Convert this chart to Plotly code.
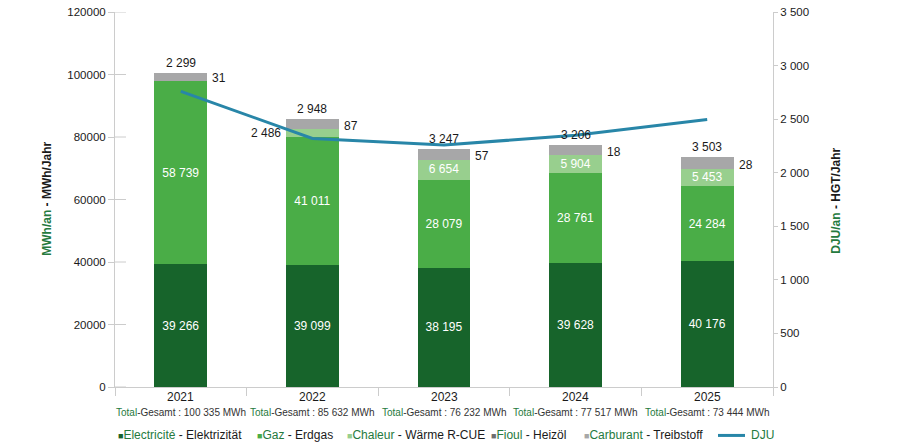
import plotly.graph_objects as go

# ---------------- data ----------------
years = ["2021", "2022", "2023", "2024", "2025"]
electricite = [39266, 39099, 38195, 39628, 40176]
gaz = [58739, 41011, 28079, 28761, 24284]
chaleur = [0, 2486, 6654, 5904, 5453]
fioul = [31, 87, 57, 18, 28]
carburant = [2299, 2948, 3247, 3206, 3503]
dju = [2760, 2320, 2258, 2350, 2497]
totals = ["100 335", "85 632", "76 232", "77 517", "73 444"]

names_fr = ["Electricité", "Gaz", "Chaleur", "Fioul", "Carburant"]
names_de = ["Elektrizität", "Erdgas", "Wärme R-CUE", "Heizöl", "Treibstoff"]
dju_name = "DJU"
left_title = ("MWh/an", " - MWh/Jahr")
right_title = ("DJU/an", " - HGT/Jahr")

# ---------------- style ----------------
W, H = 900, 443
L, R, T, B = 115, 773, 12, 387.5
FONT = "Liberation Sans, Arial, sans-serif"
C_ELEC = "#17642b"
C_GAZ = "#4aad47"
C_CHAL = "#98cf8e"
C_FIOUL = "#6e6e6e"
C_CARB = "#a7a7a8"
C_DJU = "#2886a8"
C_GREEN_TXT = "#257a3e"
C_AXIS = "#cccccc"
Y1MAX = 120000
Y2MAX = 3500
PX_PER_UNIT = (B - T) / Y1MAX
CAT_W = (R - L) / len(years)
BAR_W = 0.4


def fmt(v):
    return f"{v:,}".replace(",", " ")


def px_x(x):
    return (x - L) / (R - L)


def px_y(y):
    return (B - y) / (B - T)


fig = go.Figure()

series = [electricite, gaz, chaleur, fioul, carburant]
colors = [C_ELEC, C_GAZ, C_CHAL, C_FIOUL, C_CARB]
# the sub-pixel fioul segments blend into the carburant block in the reference
bar_colors = [C_ELEC, C_GAZ, C_CHAL, C_CARB, C_CARB]

for i, (vals, col) in enumerate(zip(series, bar_colors)):
    if i in (0, 1):
        text = [fmt(v) for v in vals]
    elif i == 2:
        text = [fmt(v) if v * PX_PER_UNIT >= 14 else "" for v in vals]
    else:
        text = ["" for _ in vals]
    fig.add_trace(go.Bar(
        x=years, y=vals, name=names_fr[i], marker=dict(color=col, line=dict(width=0)),
        width=BAR_W, text=text, textposition="inside", insidetextanchor="middle",
        textangle=0, constraintext="none",
        textfont=dict(color="white", size=12, family=FONT),
        showlegend=False, hoverinfo="skip",
    ))

fig.add_trace(go.Scatter(
    x=years, y=dju, yaxis="y2", mode="lines", name=dju_name,
    line=dict(color=C_DJU, width=3), showlegend=False,
))

annotations = []
half_bar_px = BAR_W * CAT_W / 2
for k, yr in enumerate(years):
    base_chal = electricite[k] + gaz[k]
    top_fioul = base_chal + chaleur[k] + fioul[k]
    total = top_fioul + carburant[k]
    # chaleur outside label (small segments, not zero)
    if 0 < chaleur[k] * PX_PER_UNIT < 14:
        annotations.append(dict(
            x=k, y=base_chal + chaleur[k] / 2, xref="x", yref="y",
            text=fmt(chaleur[k]), showarrow=False, xanchor="right", yanchor="middle",
            xshift=-(half_bar_px + 3), font=dict(size=12, color="#1a1a1a", family=FONT)))
    # fioul label on the right
    annotations.append(dict(
        x=k, y=top_fioul, xref="x", yref="y", text=fmt(fioul[k]), showarrow=False,
        xanchor="left", yanchor="middle", xshift=half_bar_px + 3, yshift=3,
        font=dict(size=12, color="#1a1a1a", family=FONT)))
    # carburant label above
    annotations.append(dict(
        x=k, y=total, xref="x", yref="y", text=fmt(carburant[k]), showarrow=False,
        xanchor="center", yanchor="bottom", yshift=1,
        font=dict(size=12, color="#1a1a1a", family=FONT)))
    # category label
    annotations.append(dict(
        x=k, y=px_y(398), xref="x", yref="paper", text=yr, showarrow=False,
        xanchor="center", yanchor="middle", font=dict(size=12, color="#1a1a1a", family=FONT)))
    # total label
    annotations.append(dict(
        x=k, y=px_y(413), xref="x", yref="paper",
        text=f"<span style='color:{C_GREEN_TXT}'>Total</span>-Gesamt : {totals[k]} MWh",
        showarrow=False, xanchor="center", yanchor="middle",
        font=dict(size=10, color="#333333", family=FONT)))

# axis titles
annotations.append(dict(
    x=px_x(47), y=px_y(199), xref="paper", yref="paper", textangle=-90, showarrow=False,
    text=f"<b><span style='color:{C_GREEN_TXT}'>{left_title[0]}</span>{left_title[1]}</b>",
    font=dict(size=12, color="#1a1a1a", family=FONT), xanchor="center", yanchor="middle"))
annotations.append(dict(
    x=px_x(836), y=px_y(201), xref="paper", yref="paper", textangle=-90, showarrow=False,
    text=f"<b><span style='color:{C_GREEN_TXT}'>{right_title[0]}</span>{right_title[1]}</b>",
    font=dict(size=12, color="#1a1a1a", family=FONT), xanchor="center", yanchor="middle"))

# custom legend
leg_x = [116, 255, 345, 489, 582]
leg_y = px_y(436)
for i in range(5):
    annotations.append(dict(
        x=px_x(leg_x[i]), y=leg_y, xref="paper", yref="paper", showarrow=False,
        xanchor="left", yanchor="middle",
        text=(f"<span style='color:{colors[i]};font-size:9px'>■</span>"
              f"<span style='color:{C_GREEN_TXT}'>{names_fr[i]}</span> - {names_de[i]}"),
        font=dict(size=12, color="#1a1a1a", family=FONT)))
annotations.append(dict(
    x=px_x(749), y=leg_y, xref="paper", yref="paper", showarrow=False,
    xanchor="left", yanchor="middle", text=dju_name,
    font=dict(size=12, color=C_GREEN_TXT, family=FONT)))

shapes = [dict(type="line", xref="paper", yref="paper", x0=px_x(718), x1=px_x(745),
               y0=leg_y, y1=leg_y, line=dict(color=C_DJU, width=3))]
# inner part of left ticks (crossing ticks)
for v in range(0, Y1MAX + 1, 20000):
    shapes.append(dict(type="line", xref="paper", yref="y", x0=0, x1=px_x(126),
                       y0=v, y1=v, line=dict(color=C_AXIS, width=1), layer="below"))

fig.update_layout(
    width=W, height=H,
    margin=dict(l=L, r=W - R, t=T, b=H - B, autoexpand=False),
    paper_bgcolor="white", plot_bgcolor="white",
    barmode="stack", separators=". ",
    font=dict(family=FONT, size=12, color="#1a1a1a"),
    showlegend=False,
    xaxis=dict(type="category", range=[-0.5, len(years) - 0.5], autorange=False,
               automargin=False,
               showgrid=False, showline=True, linecolor=C_AXIS,
               ticks="outside", tickson="boundaries", ticklen=8, tickcolor=C_AXIS,
               showticklabels=False, zeroline=False),
    yaxis=dict(range=[0, Y1MAX], dtick=20000, tickformat="d", showgrid=False,
               automargin=False,
               showline=True, linecolor=C_AXIS, ticks="outside", ticklen=6,
               tickcolor=C_AXIS, zeroline=False,
               tickfont=dict(size=11.5, color="#1a1a1a", family=FONT)),
    yaxis2=dict(range=[0, Y2MAX], dtick=500, tickformat=",d", overlaying="y",
                automargin=False,
                side="right", showgrid=False, showline=True, linecolor=C_AXIS,
                ticks="outside", ticklen=4, tickcolor=C_AXIS, zeroline=False,
                tickfont=dict(size=11.5, color="#1a1a1a", family=FONT)),
    annotations=annotations, shapes=shapes,
)

fig.write_html("out.html")
